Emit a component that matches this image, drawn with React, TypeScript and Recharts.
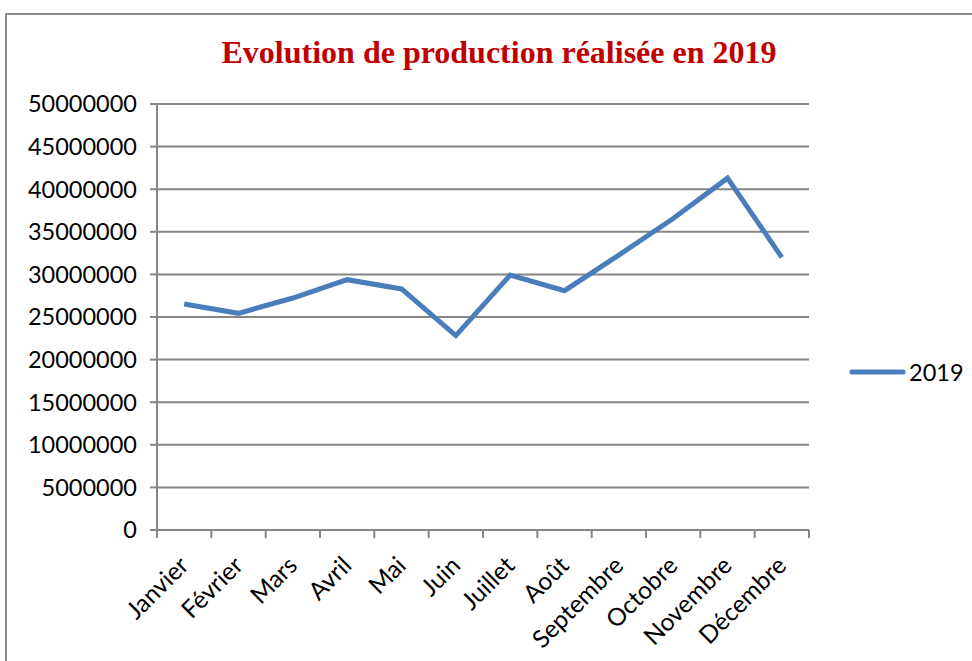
import { LineChart, Line, XAxis, YAxis, CartesianGrid, Legend } from "recharts";

const months = [
  "Janvier",
  "Février",
  "Mars",
  "Avril",
  "Mai",
  "Juin",
  "Juillet",
  "Août",
  "Septembre",
  "Octobre",
  "Novembre",
  "Décembre",
];

const production2019 = [
  26530000, 25430000, 27230000, 29380000, 28290000, 22820000, 29930000, 28090000,
  32270000, 36560000, 41300000, 32000000,
];

const yTicks = [
  0, 5000000, 10000000, 15000000, 20000000, 25000000, 30000000, 35000000, 40000000,
  45000000, 50000000,
];

// category boundaries (Excel draws ticks between categories)
const xBoundaries = [0, 1, 2, 3, 4, 5, 6, 7, 8, 9, 10, 11, 12];

const seriesName = "2019";
const title = "Evolution de production réalisée en 2019";

const data = months.map((m, i) => ({ pos: i + 0.5, month: m, value: production2019[i] }));

const W = 972;
const H = 661;
const PLOT_LEFT = 157;
const PLOT_RIGHT = 809;
const PLOT_TOP = 104;
const PLOT_BOTTOM = 530;
const BAND = (PLOT_RIGHT - PLOT_LEFT) / months.length;

const GRID = "#868686";
const BLUE = "#4A7EBB";
const FONT = "Lato, 'Open Sans', sans-serif";
const FS = 23.5;

function MonthTick(props: any) {
  const { x, y, payload } = props;
  const i = payload.value;
  if (i >= months.length) return <g />;
  const cx = x + BAND / 2;
  return (
    <g transform={`translate(${cx + 6},${y + 27})`}>
      <text
        x={0}
        y={0}
        transform="rotate(-45)"
        textAnchor="end"
        fontSize={24.5}
        fontFamily={FONT}
        fill="#000"
      >
        {months[i]}
      </text>
    </g>
  );
}

function LegendContent() {
  return (
    <div style={{ display: "flex", alignItems: "center", fontFamily: FONT, fontSize: FS }}>
      <svg width={58} height={10}>
        <line x1={4} y1={5} x2={55} y2={5} stroke={BLUE} strokeWidth={5} strokeLinecap="round" />
      </svg>
      <span style={{ marginLeft: 3, color: "#000" }}>{seriesName}</span>
    </div>
  );
}

export default function App() {
  return (
    <div style={{ position: "absolute", left: 0, top: 0, width: W, height: H, overflow: "hidden", background: "#fff" }}>
      <div
        style={{
          position: "absolute",
          left: 5,
          top: 13,
          width: W + 20,
          height: H + 20,
          border: "2px solid #8c8c8c",
          boxSizing: "border-box",
        }}
      />
      <div
        style={{
          position: "absolute",
          left: 0,
          width: 998,
          top: 33,
          textAlign: "center",
          fontFamily: "'Liberation Serif', 'Times New Roman', serif",
          fontWeight: "bold",
          fontSize: 32,
          color: "#C00000",
          lineHeight: "38px",
        }}
      >
        {title}
      </div>
      <div style={{ position: "absolute", left: 0, top: 0 }}>
        <LineChart
          width={W}
          height={H}
          data={data}
          margin={{ top: PLOT_TOP, left: PLOT_LEFT - 70, right: W - PLOT_RIGHT, bottom: H - PLOT_BOTTOM - 40 }}
        >
          <CartesianGrid vertical={false} stroke={GRID} strokeWidth={2} />
          <XAxis
            type="number"
            dataKey="pos"
            domain={[0, 12]}
            ticks={xBoundaries}
            interval={0}
            height={40}
            axisLine={{ stroke: GRID, strokeWidth: 2 }}
            tickLine={{ stroke: GRID, strokeWidth: 2 }}
            tickSize={8}
            tick={<MonthTick />}
          />
          <YAxis
            width={70}
            domain={[0, 50000000]}
            ticks={yTicks}
            interval={0}
            axisLine={{ stroke: GRID, strokeWidth: 2 }}
            tickLine={{ stroke: GRID, strokeWidth: 2 }}
            tickSize={7}
            tickMargin={13}
            tickFormatter={(v) => String(v)}
            tick={{ fontSize: FS, fontFamily: FONT, fill: "#000" }}
          />
          <Legend
            layout="horizontal"
            verticalAlign="middle"
            align="center"
            content={<LegendContent />}
            wrapperStyle={{ position: "absolute", left: 848, top: 358, width: 124 }}
          />
          <Line
            type="linear"
            dataKey="value"
            name={seriesName}
            stroke={BLUE}
            strokeWidth={5}
            dot={false}
            activeDot={false}
            isAnimationActive={false}
          />
        </LineChart>
      </div>
    </div>
  );
}
